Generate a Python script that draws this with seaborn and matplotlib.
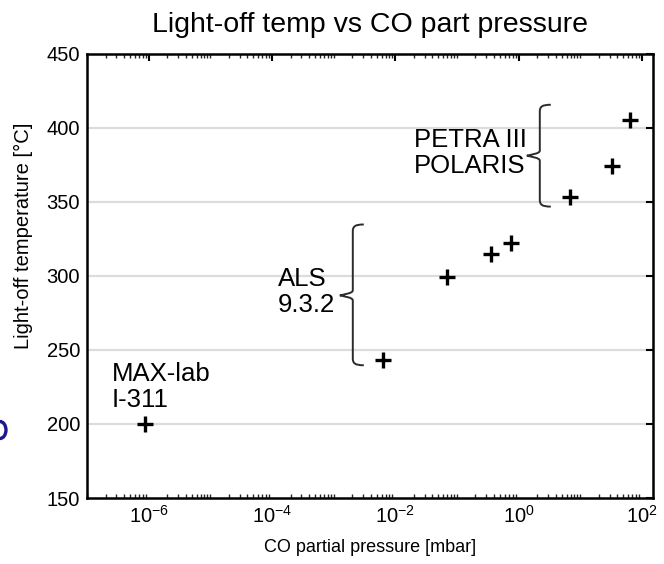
import numpy as np
import pandas as pd
import matplotlib
matplotlib.use("Agg")
import matplotlib.pyplot as plt
import seaborn as sns
from matplotlib.path import Path
from matplotlib.patches import PathPatch, Ellipse
from matplotlib.ticker import LogLocator, NullFormatter, FixedLocator

# ---- data ----
pressure_mbar = [8.7e-7, 6.25e-3, 0.0686, 0.362, 0.743, 6.75, 32.7, 64.7]
lightoff_temp = [200, 243.5, 299.5, 314.6, 322, 353.7, 374, 405.6]

group_labels = ["MAX-lab\nI-311", "ALS\n9.3.2", "PETRA III\nPOLARIS"]
label_x = [10 ** -6.60, 10 ** -3.91, 10 ** -1.70]
label_y = [225, 289, 383]

# braces: x of vertical stroke (log10), top, cusp, bottom (data y)
brace_xlog = [-2.689, 0.344]
brace_top = [334.8, 415.7]
brace_mid = [286.9, 381.3]
brace_bot = [239.7, 346.9]

y_ticks = [150, 200, 250, 300, 350, 400, 450]
x_major = [1e-6, 1e-4, 1e-2, 1e0, 1e2]

title = "Light-off temp vs CO part pressure"
xlabel = "CO partial pressure [mbar]"
ylabel = "Light-off temperature [°C]"

# ---- style ----
sns.set_theme(style="white")
plt.rcParams["font.family"] = ["Liberation Sans", "DejaVu Sans"]
plt.rcParams["mathtext.fontset"] = "custom"
plt.rcParams["mathtext.rm"] = "Liberation Sans"
plt.rcParams["text.color"] = "black"
plt.rcParams["axes.labelcolor"] = "black"

fig = plt.figure(figsize=(6.64, 5.64), dpi=100)
ax = fig.add_axes([87 / 664, 1 - 498 / 564, (653 - 87) / 664, (498 - 54) / 564])

df = pd.DataFrame({"p": pressure_mbar, "T": lightoff_temp})
ax.set_xscale("log")
sns.scatterplot(data=df, x="p", y="T", marker="+", s=140, linewidth=2.4,
                color="black", ax=ax, zorder=5)

ax.set_xlim(1e-7, 10 ** 2.18)
ax.set_ylim(150, 450)

# grid (horizontal only)
for yv in y_ticks[1:-1]:
    ax.axhline(yv, color="#dcdcdc", lw=1.6, zorder=0)

ax.set_yticks(y_ticks)
ax.xaxis.set_major_locator(FixedLocator(x_major))
ax.xaxis.set_minor_locator(LogLocator(base=10, subs=np.arange(1, 10), numticks=50))
ax.xaxis.set_minor_formatter(NullFormatter())

ax.tick_params(axis="both", which="major", direction="in", length=5, width=1.5,
               top=True, right=True, labelsize=14.5, colors="black", pad=5)
ax.tick_params(axis="x", which="minor", direction="in", length=3, width=1.0,
               top=True, bottom=True)
for s in ax.spines.values():
    s.set_linewidth(1.8)
    s.set_color("black")

ax.set_xlabel(xlabel, fontsize=13, labelpad=9, color="black")
ax.set_ylabel(ylabel, fontsize=14.5, color="black")
ax.yaxis.set_label_coords(-0.095, 0.59)
ax.set_title(title, fontsize=20.5, pad=16, color="black")

# group labels
for t, xv, yv in zip(group_labels, label_x, label_y):
    ax.text(xv, yv, t, fontsize=18.5, ha="left", va="center", linespacing=1.1,
            color="black")

# braces drawn in pixel space
fig.canvas.draw()
def data_to_px(x, y):
    return ax.transData.transform((x, y))

for xl, yt, ym, yb in zip(brace_xlog, brace_top, brace_mid, brace_bot):
    xv = 10 ** xl
    px, ptop = data_to_px(xv, yt)
    _, pmid = data_to_px(xv, ym)
    _, pbot = data_to_px(xv, yb)
    w = 11   # hook length
    r = 7    # corner radius
    c = 13   # cusp depth
    verts = [
        (px + w, ptop), (px + 2, ptop), (px, ptop - 2), (px, ptop - r),
        (px, pmid + 5),
        (px, pmid + 2), (px - c + 4, pmid + 1), (px - c, pmid),
        (px - c + 4, pmid - 1), (px, pmid - 2), (px, pmid - 5),
        (px, pbot + r),
        (px, pbot + 2), (px + 2, pbot), (px + w, pbot),
    ]
    codes = [Path.MOVETO, Path.CURVE4, Path.CURVE4, Path.CURVE4,
             Path.LINETO,
             Path.CURVE4, Path.CURVE4, Path.CURVE4,
             Path.CURVE4, Path.CURVE4, Path.CURVE4,
             Path.LINETO,
             Path.CURVE4, Path.CURVE4, Path.CURVE4]
    patch = PathPatch(Path(verts, codes), transform=None, fill=False,
                      edgecolor="#2b2b2b", lw=1.4, zorder=4)
    fig.add_artist(patch)

# small cropped dark-blue mark at the left edge of the image
fig.add_artist(Ellipse((0.0, 1 - 430 / 564), 0.018, 0.03, transform=fig.transFigure,
                       facecolor="white", edgecolor="#1a1a8c", lw=2.4))

fig.savefig("out.png", dpi=100)
